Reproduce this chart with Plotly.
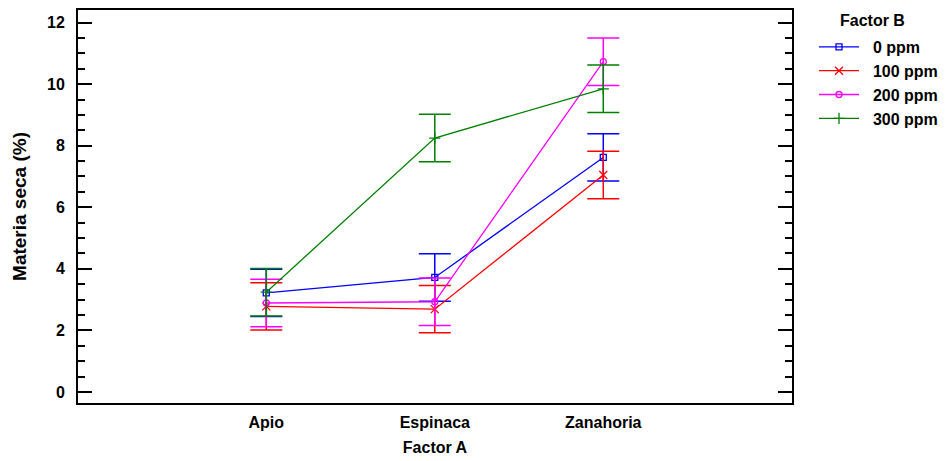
import plotly.graph_objects as go

categories = ["Apio", "Espinaca", "Zanahoria"]
series_names = ["0 ppm", "100 ppm", "200 ppm", "300 ppm"]
means_0 = [3.22, 3.72, 7.62]
means_100 = [2.78, 2.69, 7.05]
means_200 = [2.89, 2.93, 10.73]
means_300 = [3.24, 8.25, 9.85]
half_width = [0.77, 0.77, 0.77]
y_ticks = [0, 2, 4, 6, 8, 10, 12]

colors = ["#0000FF", "#FF0000", "#FF00FF", "#008000"]
symbols = ["square-open", "x-thin-open", "circle-open", "cross-thin-open"]
msizes = [6, 8, 6, 8]
all_means = [means_0, means_100, means_200, means_300]

FONT = "Liberation Sans, Arial, sans-serif"
FS = 16
W, H = 946, 461

fig = go.Figure()
for name, m, c, s, ms in zip(series_names, all_means, colors, symbols, msizes):
    fig.add_trace(go.Scatter(
        x=list(range(len(categories))), y=m, name="\u00a0\u00a0" + name, mode="lines+markers",
        line=dict(color=c, width=1.3),
        marker=dict(symbol=s, size=ms, color=c, line=dict(color=c, width=1.3)),
        error_y=dict(type="data", array=half_width, visible=True, color=c,
                     thickness=1.5, width=16),
    ))

plot_w = W - 78 - 154
plot_h = H - 10 - 58

fig.update_layout(
    width=W, height=H,
    margin=dict(l=78, r=154, t=10, b=58, autoexpand=False),
    plot_bgcolor="white", paper_bgcolor="white",
    font=dict(family=FONT, size=FS, color="black"),
    showlegend=True,
    legend=dict(xref="container", yref="container",
                x=814 / W, y=1 - 30 / H, xanchor="left", yanchor="top",
                font=dict(family=FONT, size=FS, color="black", weight="bold"),
                itemwidth=40, bgcolor="rgba(0,0,0,0)"),
    annotations=[dict(text="<b>Factor B</b>", x=(838 - 78) / plot_w, y=(403 - 20) / plot_h,
                      xref="paper", yref="paper", xanchor="left", yanchor="middle",
                      showarrow=False, font=dict(family=FONT, size=FS))],
)

fig.update_xaxes(
    range=[-1.1175, 3.12], tickmode="array", tickvals=list(range(len(categories))),
    ticktext=["<b>%s</b>" % c for c in categories], ticks="",
    showline=True, linecolor="black", linewidth=2, mirror=True,
    showgrid=False, zeroline=False, automargin=False,
    tickfont=dict(family=FONT, size=FS), ticklabelstandoff=4,
    title=dict(text="<b>Factor A</b>", font=dict(family=FONT, size=FS), standoff=12),
)
fig.update_yaxes(
    range=[-0.36, 12.41], tickmode="array", tickvals=y_ticks,
    ticktext=["<b>%d</b>" % v for v in y_ticks],
    ticks="inside", ticklen=14, tickwidth=2, tickcolor="black",
    minor=dict(dtick=0.5, tick0=0, ticks="inside", ticklen=7, tickwidth=2, tickcolor="black"),
    showline=True, linecolor="black", linewidth=2, mirror="ticks",
    showgrid=False, zeroline=False, automargin=False,
    tickfont=dict(family=FONT, size=FS), ticklabelstandoff=8,
    title=dict(text="<b>Materia seca (%)</b>", font=dict(family=FONT, size=19), standoff=15),
)

fig.write_html("out.html")
